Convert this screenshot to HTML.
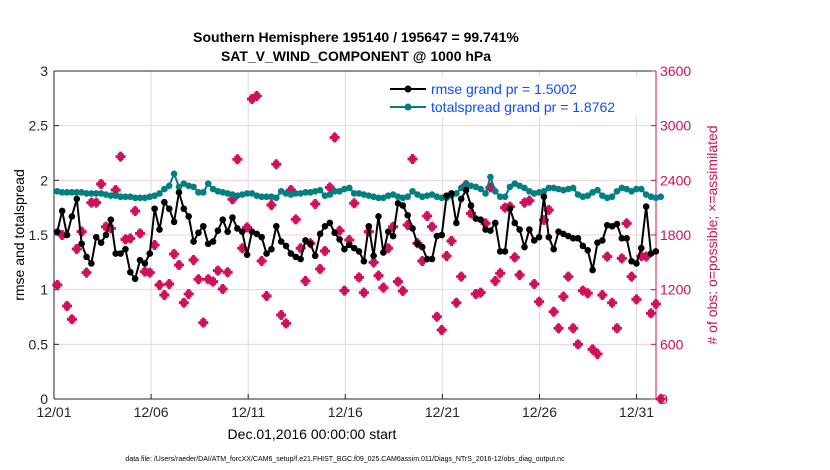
<!DOCTYPE html>
<html><head><meta charset="utf-8"><style>
body{margin:0;background:#fff;}
svg{display:block;font-family:"Liberation Sans",sans-serif;}
</style></head><body>
<svg id="chart" width="830" height="470" viewBox="0 0 830 470">
<g id="grid"></g>
<g id="axes"></g>
<g id="series"></g>
<text x="356" y="42" font-size="14" font-weight="bold" text-anchor="middle">Southern Hemisphere 195140 / 195647 = 99.741%</text>
<text x="356" y="61" font-size="14" font-weight="bold" text-anchor="middle">SAT_V_WIND_COMPONENT @ 1000 hPa</text>
<text transform="translate(24,235) rotate(-90)" font-size="14" text-anchor="middle">rmse and totalspread</text>
<text transform="translate(717,235) rotate(-90)" font-size="14" text-anchor="middle" fill="#d0105a"># of obs: o=possible; ×=assimilated</text>
<text x="312" y="439" font-size="14" text-anchor="middle">Dec.01,2016 00:00:00 start</text>
<text x="345" y="461" font-size="7" text-anchor="middle">data file: /Users/raeder/DAI/ATM_forcXX/CAM6_setup/f.e21.FHIST_BGC.f09_025.CAM6assim.011/Diags_NTrS_2016-12/obs_diag_output.nc</text>
<g>
<rect x="384" y="77" width="256" height="40" fill="#fff"/>
<g>
<line x1="390" y1="89" x2="426" y2="89" stroke="#000" stroke-width="2"/><circle cx="408" cy="89" r="3.5" fill="#000"/>
<text x="431" y="94" font-size="14" fill="#0b4cff">rmse grand pr = 1.5002</text></g>
<g>
<line x1="390" y1="107" x2="426" y2="107" stroke="#008080" stroke-width="2"/><circle cx="408" cy="107" r="3.5" fill="#008080"/>
<text x="431" y="112" font-size="14" fill="#0b4cff">totalspread grand pr = 1.8762</text></g>
</g>
</svg>
<script>
const rmse=[1.53,1.72,1.50,1.67,1.83,1.42,1.30,1.24,1.48,1.43,1.50,1.64,1.33,1.33,1.37,1.16,1.10,1.27,1.24,1.33,1.74,1.55,1.80,1.74,1.62,1.89,1.74,1.67,1.44,1.52,1.58,
1.42,1.44,1.54,1.64,1.53,1.66,1.56,1.53,1.32,1.53,1.51,1.48,1.33,1.37,1.58,1.44,1.40,1.33,1.30,1.28,1.45,1.42,1.31,1.51,1.58,1.61,1.52,1.46,1.37,1.41,1.38,
1.35,1.26,1.58,1.31,1.67,1.34,1.53,1.49,1.79,1.77,1.68,1.56,1.42,1.39,1.28,1.28,1.49,1.50,1.86,1.88,1.61,1.83,1.91,1.77,1.65,1.64,1.55,1.54,1.61,1.35,1.35,
1.74,1.61,1.55,1.39,1.55,1.45,1.48,1.85,1.48,1.37,1.53,1.51,1.49,1.47,1.47,1.40,1.36,1.18,1.43,1.45,1.59,1.58,1.60,1.47,1.47,1.26,1.24,1.38,1.76,1.33,1.35];
const spread=[1.90,1.89,1.89,1.89,1.89,1.89,1.88,1.88,1.88,1.88,1.87,1.86,1.86,1.85,1.85,1.85,1.84,1.84,1.84,1.85,1.86,1.88,1.92,1.95,2.06,1.94,1.97,1.95,1.94,1.89,1.89,
1.97,1.92,1.90,1.89,1.88,1.87,1.86,1.87,1.88,1.88,1.86,1.85,1.85,1.85,1.84,1.90,1.88,1.87,1.88,1.88,1.89,1.89,1.90,1.91,1.86,1.87,1.90,1.90,1.92,1.93,1.88,
1.88,1.87,1.86,1.85,1.84,1.84,1.86,1.87,1.85,1.84,1.85,1.90,1.87,1.85,1.86,1.87,1.85,1.84,1.84,1.86,1.88,1.93,1.97,1.95,1.94,1.92,1.88,2.03,1.90,1.85,1.85,
1.94,1.97,1.95,1.93,1.90,1.88,1.89,1.90,1.93,1.93,1.92,1.91,1.92,1.93,1.87,1.85,1.86,1.89,1.91,1.86,1.84,1.85,1.90,1.93,1.92,1.90,1.92,1.92,1.87,1.85,1.84,1.85];
const nobs=[1251,1800,1021,875,1646,1837,1387,2155,2155,2360,1891,1873,2294,2660,1752,1763,2063,1818,1398,1387,1690,1251,1141,1262,1591,1471,1057,1153,1526,1314,838,
1314,1288,1409,1207,1391,2192,2631,1654,1884,3293,3326,1515,1131,2129,2576,922,830,2294,1972,1654,1295,1709,2140,1427,1624,2323,2872,1848,1189,1745,2148,
1335,1167,1837,1500,1354,1222,1654,1891,1288,1185,1910,2634,1709,1515,2009,1891,903,757,1570,1734,1057,1343,2349,2038,1153,1167,1928,2323,1295,1380,2100,
2111,1555,1361,2155,2177,1262,1068,1965,2074,958,776,1123,1343,776,600,1189,1160,545,494,1141,1562,1057,776,1544,1928,1343,1094,1570,1562,941,1043,0];
const xTickLabels=["12/01","12/06","12/11","12/16","12/21","12/26","12/31"];
const xTickDays=[0,5,10,15,20,25,30];
const yTicks=[0,0.5,1,1.5,2,2.5,3];
const y2Ticks=[0,600,1200,1800,2400,3000,3600];
const t0=0.17, dt=0.2506;

const L=54,R=656,T=71,B=399;
const xs=d=>L+d*(R-L)/31;
const ys=v=>B-v*(B-T)/3;
const y2=c=>B-c*(B-T)/3600;
const NS="http://www.w3.org/2000/svg";
function mk(tag,attrs,parent){const e=document.createElementNS(NS,tag);for(const k in attrs)e.setAttribute(k,attrs[k]);parent.appendChild(e);return e;}
const grid=document.getElementById('grid'),axes=document.getElementById('axes'),ser=document.getElementById('series');
mk('rect',{x:L,y:T,width:R-L,height:B-T,fill:'#fff'},grid);
y2Ticks.forEach(c=>{const l=mk('line',{x1:L,x2:R,y1:y2(c),y2:y2(c),stroke:'#f3cfdc','stroke-width':1},grid);

});
xTickDays.forEach(d=>{if(d===0)return;const l=mk('line',{x1:xs(d),x2:xs(d),y1:T,y2:B,stroke:'#dcdcdc','stroke-width':1},grid);

});
mk('line',{x1:L,x2:L,y1:T,y2:B,stroke:'#262626'},axes);
mk('line',{x1:L,x2:R,y1:B,y2:B,stroke:'#262626'},axes);
mk('line',{x1:L,x2:R,y1:T,y2:T,stroke:'#262626'},axes);
mk('line',{x1:R,x2:R,y1:T,y2:B,stroke:'#d0105a'},axes);
yTicks.forEach(v=>{mk('line',{x1:L,x2:L+5,y1:ys(v),y2:ys(v),stroke:'#262626'},axes);
const t=mk('text',{x:L-6,y:ys(v)+5,'font-size':14,'text-anchor':'end',fill:'#262626'},axes);t.textContent=String(v);

});
y2Ticks.forEach(c=>{mk('line',{x1:R-5,x2:R,y1:y2(c),y2:y2(c),stroke:'#d0105a'},axes);
const t=mk('text',{x:R+4,y:y2(c)+5,'font-size':14,fill:'#d0105a'},axes);t.textContent=String(c);

});
xTickDays.forEach((d,i)=>{mk('line',{x1:xs(d),x2:xs(d),y1:B,y2:B-5,stroke:'#262626'},axes);
const t=mk('text',{x:xs(d),y:B+18,'font-size':14,'text-anchor':'middle',fill:'#262626'},axes);t.textContent=xTickLabels[i];

});
const tx=i=>xs(t0+dt*i);
nobs.forEach((c,i)=>{const x=tx(i),y=y2(c);
const g=mk('path',{d:`M${x-1.5},${y-5}h3v1.5h1.5v2h2v3h-2v2h-1.5v1.5h-3v-1.5h-1.5v-2h-2v-3h2v-2h1.5z`,fill:'#d0105a'},ser);

});
function line(arr,color,name){
const p=mk('polyline',{points:arr.map((v,i)=>tx(i)+','+ys(v)).join(' '),fill:'none',stroke:color,'stroke-width':2},ser);


arr.forEach((v,i)=>{const c=mk('circle',{cx:tx(i),cy:ys(v),r:3.3,fill:color},ser);

});}
line(spread,'#008080','totalspread');
line(rmse,'#000','rmse');
</script>
</body></html>
